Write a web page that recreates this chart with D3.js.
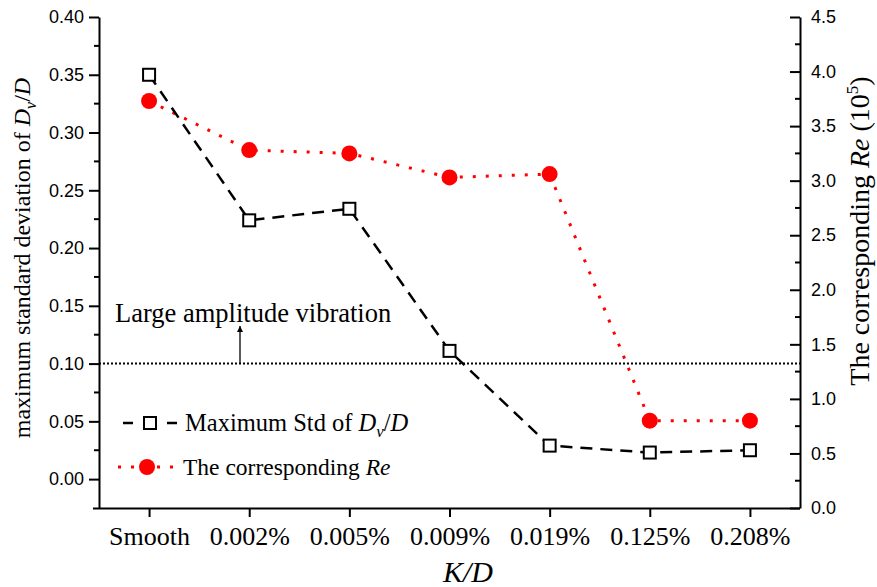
<!DOCTYPE html>
<html>
<head>
<meta charset="utf-8">
<script src="https://cdn.jsdelivr.net/npm/d3@7"></script>
<style>
body { margin: 0; background: #fff; }
text { fill: #000; }
</style>
</head>
<body>
<div id="chart"></div>
<script>
// data
let categories = ["Smooth", "0.002%", "0.005%", "0.009%", "0.019%", "0.125%", "0.208%"]
let stdValues = [0.350, 0.224, 0.234, 0.111, 0.029, 0.023, 0.025]
let reValues = [3.73, 3.28, 3.25, 3.03, 3.06, 0.80, 0.80]
let leftTicks = [0, 0.05, 0.10, 0.15, 0.20, 0.25, 0.30, 0.35, 0.40]
let rightTicks = [0, 0.5, 1.0, 1.5, 2.0, 2.5, 3.0, 3.5, 4.0, 4.5]
let threshold = 0.10

let W = 877, H = 587
let padL = 99, padR = 800, padT = 17, padB = 508
let serif = "'Liberation Serif', 'Times New Roman', serif"
let sans = "'Liberation Sans', Arial, sans-serif"

let svg = d3.select("#chart").append("svg")
    .attr("width", W)
    .attr("height", H)

let x = d3.scalePoint().domain(categories).range([padL, padR]).padding(0.5)
let yL = d3.scaleLinear().domain([-0.025, 0.40]).range([padB, padT])
let yR = d3.scaleLinear().domain([0, 4.5]).range([padB, padT])

// minor ticks
let leftMinor = d3.range(0.025, 0.40, 0.05)
let rightMinor = d3.range(0.25, 4.5, 0.5)

let gL = svg.append("g").attr("transform", `translate(${padL},0)`)
    .call(d3.axisLeft(yL).tickValues(leftTicks).tickFormat(d3.format(".2f")).tickSizeInner(10).tickSizeOuter(0).tickPadding(5))
gL.selectAll("line").attr("stroke-width", 2)
gL.select(".domain").attr("stroke-width", 2)
gL.selectAll("text").style("font-family", sans).style("font-size", "18px")
gL.selectAll(".minor").data(leftMinor).enter().append("line")
    .attr("x1", -5).attr("x2", 0)
    .attr("y1", d => yL(d)).attr("y2", d => yL(d))
    .attr("stroke", "#000").attr("stroke-width", 2)

let gR = svg.append("g").attr("transform", `translate(${padR},0)`)
    .call(d3.axisRight(yR).tickValues(rightTicks).tickFormat(d3.format(".1f")).tickSizeInner(-10).tickSizeOuter(0).tickPadding(11))
gR.selectAll("line").attr("stroke-width", 2)
gR.select(".domain").attr("stroke-width", 2)
gR.selectAll("text").style("font-family", sans).style("font-size", "18px")
gR.selectAll(".minor").data(rightMinor).enter().append("line")
    .attr("x1", -5).attr("x2", 0)
    .attr("y1", d => yR(d)).attr("y2", d => yR(d))
    .attr("stroke", "#000").attr("stroke-width", 2)

let gB = svg.append("g").attr("transform", `translate(0,${padB})`)
    .call(d3.axisBottom(x).tickSizeInner(9).tickSizeOuter(0).tickPadding(10))
gB.select(".domain").attr("d", `M${padL - 6},0.5H${padR}`).attr("stroke-width", 2)
gB.selectAll("line").attr("stroke-width", 2)
gB.selectAll("text").style("font-family", serif).style("font-size", "26px")

// axis titles
svg.append("text")
    .attr("x", 468).attr("y", 582)
    .attr("text-anchor", "middle")
    .style("font-family", serif).style("font-size", "30px").style("font-style", "italic")
    .text("K/D")

let lt = svg.append("text")
    .attr("transform", `translate(30,258) rotate(-90)`)
    .attr("text-anchor", "middle")
    .style("font-family", serif).style("font-size", "24px")
lt.append("tspan").text("maximum standard deviation of ")
lt.append("tspan").style("font-style", "italic").text("D")
lt.append("tspan").style("font-style", "italic").style("font-size", "16px").attr("dy", 6).text("v")
lt.append("tspan").attr("dy", -6).text("/")
lt.append("tspan").style("font-style", "italic").text("D")

let rt = svg.append("text")
    .attr("transform", `translate(869,231) rotate(-90)`)
    .attr("text-anchor", "middle")
    .style("font-family", serif).style("font-size", "28px")
rt.append("tspan").text("The corresponding ")
rt.append("tspan").style("font-style", "italic").text("Re")
rt.append("tspan").text(" (10")
rt.append("tspan").style("font-size", "17px").attr("dy", -11).text("5")
rt.append("tspan").attr("dy", 11).text(")")

// threshold line and annotation
svg.append("line")
    .attr("x1", padL).attr("x2", padR)
    .attr("y1", yL(threshold)).attr("y2", yL(threshold))
    .attr("stroke", "#000").attr("stroke-width", 2).attr("stroke-dasharray", "2,2")

svg.append("defs").append("marker")
    .attr("id", "arrow").attr("viewBox", "0 0 10 10")
    .attr("refX", 10).attr("refY", 5)
    .attr("markerWidth", 7).attr("markerHeight", 6)
    .attr("markerUnits", "userSpaceOnUse")
    .attr("orient", "auto")
    .append("path").attr("d", "M0,0L10,5L0,10z").attr("fill", "#000")

svg.append("line")
    .attr("x1", 240).attr("x2", 240)
    .attr("y1", yL(threshold)).attr("y2", 326)
    .attr("stroke", "#000").attr("stroke-width", 1.3)
    .attr("marker-end", "url(#arrow)")

svg.append("text")
    .attr("x", 115).attr("y", 322)
    .style("font-family", serif).style("font-size", "26.5px")
    .text("Large amplitude vibration")

// Re series (red dotted)
let reLine = d3.line().x((d, i) => x(categories[i])).y(d => yR(d))
svg.append("path")
    .attr("d", reLine(reValues))
    .attr("fill", "none").attr("stroke", "#ff0000")
    .attr("stroke-width", 3).attr("stroke-dasharray", "3,10")
svg.selectAll(".re").data(reValues).enter().append("circle")
    .attr("cx", (d, i) => x(categories[i]))
    .attr("cy", d => yR(d))
    .attr("r", 8).attr("fill", "#ff0000")

// std series (black dashed)
let stdLine = d3.line().x((d, i) => x(categories[i])).y(d => yL(d))
svg.append("path")
    .attr("d", stdLine(stdValues))
    .attr("fill", "none").attr("stroke", "#000")
    .attr("stroke-width", 2.5).attr("stroke-dasharray", "12,8")
svg.selectAll(".std").data(stdValues).enter().append("rect")
    .attr("x", (d, i) => x(categories[i]) - 6)
    .attr("y", d => yL(d) - 6)
    .attr("width", 12).attr("height", 12)
    .attr("fill", "#fff").attr("stroke", "#000").attr("stroke-width", 2)

// legend
let lg = svg.append("g")
lg.append("line").attr("x1", 123).attr("x2", 178).attr("y1", 423).attr("y2", 423)
    .attr("stroke", "#000").attr("stroke-width", 2.5).attr("stroke-dasharray", "10,12")
lg.append("rect").attr("x", 144).attr("y", 417).attr("width", 12).attr("height", 12)
    .attr("fill", "#fff").attr("stroke", "#000").attr("stroke-width", 2)
let l1 = lg.append("text").attr("x", 185).attr("y", 431)
    .style("font-family", serif).style("font-size", "24.5px")
l1.append("tspan").text("Maximum Std of ")
l1.append("tspan").style("font-style", "italic").text("D")
l1.append("tspan").style("font-style", "italic").style("font-size", "17px").attr("dy", 6).text("v")
l1.append("tspan").attr("dy", -6).text("/")
l1.append("tspan").style("font-style", "italic").text("D")

lg.append("line").attr("x1", 118).attr("x2", 176).attr("y1", 467).attr("y2", 467)
    .attr("stroke", "#ff0000").attr("stroke-width", 3).attr("stroke-dasharray", "3,10")
lg.append("circle").attr("cx", 147).attr("cy", 467).attr("r", 8).attr("fill", "#ff0000")
let l2 = lg.append("text").attr("x", 183).attr("y", 475)
    .style("font-family", serif).style("font-size", "23.5px")
l2.append("tspan").text("The corresponding ")
l2.append("tspan").style("font-style", "italic").text("Re")
</script>
</body>
</html>
